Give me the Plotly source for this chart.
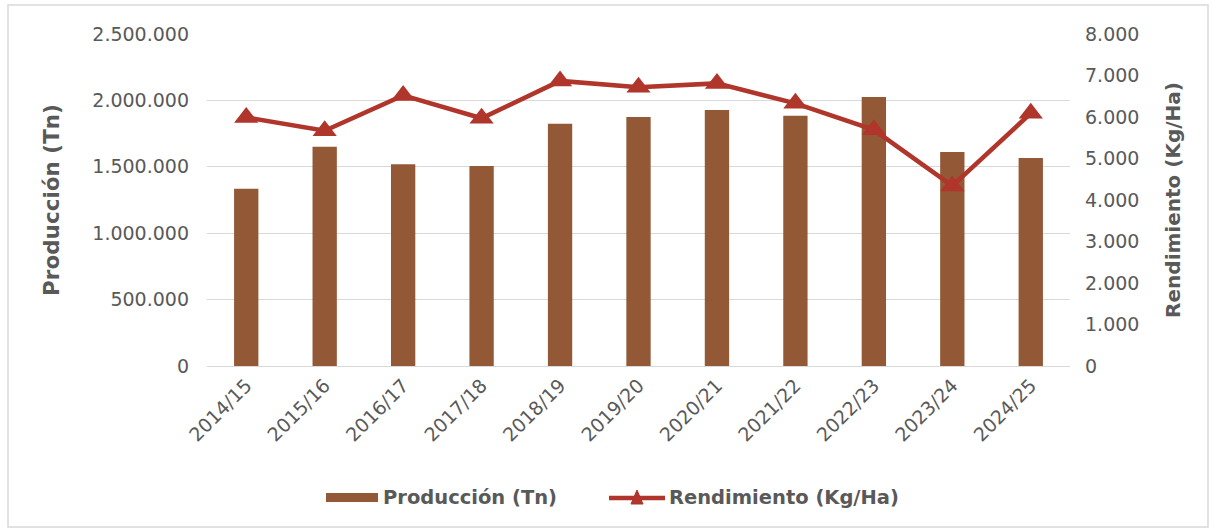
import plotly.graph_objects as go

campanias = ["2014/15", "2015/16", "2016/17", "2017/18", "2018/19", "2019/20",
             "2020/21", "2021/22", "2022/23", "2023/24", "2024/25"]
produccion_tn = [1335000, 1651000, 1519000, 1506000, 1825000, 1875000,
                 1928000, 1885000, 2026000, 1611000, 1566000]
rendimiento_kg_ha = [5990, 5670, 6520, 5970, 6870, 6715, 6810, 6330, 5690, 4340, 6090]

left_ticks = [0, 500000, 1000000, 1500000, 2000000, 2500000]
left_tick_text = ["0", "500.000", "1.000.000", "1.500.000", "2.000.000", "2.500.000"]
right_ticks = [0, 1000, 2000, 3000, 4000, 5000, 6000, 7000, 8000]
right_tick_text = ["0", "1.000", "2.000", "3.000", "4.000", "5.000", "6.000", "7.000", "8.000"]

FONT = "DejaVu Sans"
GREY = "#595959"
BAR_COLOR = "#935835"
LINE_COLOR = "#B0352A"

fig = go.Figure()
fig.add_trace(go.Bar(
    x=campanias, y=produccion_tn, name="Producción (Tn)",
    marker=dict(color=BAR_COLOR, line=dict(width=0)),
    yaxis="y", showlegend=False,
))
fig.add_trace(go.Scatter(
    x=campanias, y=rendimiento_kg_ha, name="Rendimiento (Kg/Ha)",
    mode="lines+markers",
    line=dict(color=LINE_COLOR, width=4.5),
    marker=dict(symbol="triangle-up", size=21, color=LINE_COLOR),
    yaxis="y2", showlegend=False,
))

W, H = 1216, 532
L, R, T, B = 207, 146, 34, 166
pw, ph = W - L - R, H - T - B

def px_x(x):
    return (x - L) / pw

def px_y(y):
    return (H - B - y) / ph

# custom legend (swatches drawn as shapes, labels as annotations)
legend_shapes = [
    dict(type="rect", xref="paper", yref="paper",
         x0=px_x(326), x1=px_x(378), y0=px_y(502), y1=px_y(493),
         fillcolor=BAR_COLOR, line=dict(width=0)),
    dict(type="line", xref="paper", yref="paper",
         x0=px_x(609), x1=px_x(665), y0=px_y(498), y1=px_y(498),
         line=dict(color=LINE_COLOR, width=4.5)),
    dict(type="path", xref="paper", yref="paper",
         path="M {} {} L {} {} L {} {} Z".format(
             px_x(631), px_y(504), px_x(643), px_y(504), px_x(637), px_y(490)),
         fillcolor=LINE_COLOR, line=dict(color=LINE_COLOR, width=1)),
]
legend_annotations = [
    dict(text="<b>Producción (Tn)</b>", xref="paper", yref="paper",
         x=px_x(381), y=px_y(497), xanchor="left", yanchor="middle",
         showarrow=False, font=dict(size=19.5, family=FONT, color=GREY)),
    dict(text="<b>Rendimiento (Kg/Ha)</b>", xref="paper", yref="paper",
         x=px_x(667), y=px_y(497), xanchor="left", yanchor="middle",
         showarrow=False, font=dict(size=19.5, family=FONT, color=GREY)),
]

border = dict(
    type="rect", xref="paper", yref="paper",
    x0=px_x(8), x1=px_x(1208), y0=px_y(527), y1=px_y(5),
    line=dict(color="#D9D9D9", width=1.5), fillcolor="rgba(0,0,0,0)",
    layer="below",
)

fig.update_layout(
    width=W, height=H,
    margin=dict(l=L, r=R, t=T, b=B),
    paper_bgcolor="white", plot_bgcolor="white",
    font=dict(family=FONT, color=GREY),
    bargap=0.69,
    showlegend=False,
    xaxis=dict(
        type="category", tickangle=-45,
        tickfont=dict(size=19, family=FONT, color=GREY),
        showgrid=False, showline=True, linecolor="#D9D9D9", linewidth=1,
        ticks="", range=[-0.5, 10.5],
    ),
    yaxis=dict(
        range=[0, 2500000], tickvals=left_ticks, ticktext=left_tick_text,
        tickfont=dict(size=19, family=FONT, color=GREY),
        showgrid=True, gridcolor="#D9D9D9", gridwidth=1,
        zeroline=False, showline=False, ticks="",
        ticklabelstandoff=17,
        title=dict(text="<b>Producción (Tn)</b>", standoff=26,
                   font=dict(size=21.5, family=FONT, color=GREY)),
    ),
    yaxis2=dict(
        overlaying="y", side="right",
        range=[0, 8000], tickvals=right_ticks, ticktext=right_tick_text,
        tickfont=dict(size=19, family=FONT, color=GREY),
        showgrid=False, zeroline=False, showline=False, ticks="",
        ticklabelstandoff=14,
        title=dict(text="<b>Rendimiento (Kg/Ha)</b>", standoff=27,
                   font=dict(size=20, family=FONT, color=GREY)),
    ),
    shapes=[border] + legend_shapes,
    annotations=legend_annotations,
)

fig.write_html("out.html", config={"displayModeBar": False},
               post_script="document.body.style.margin='0';")
